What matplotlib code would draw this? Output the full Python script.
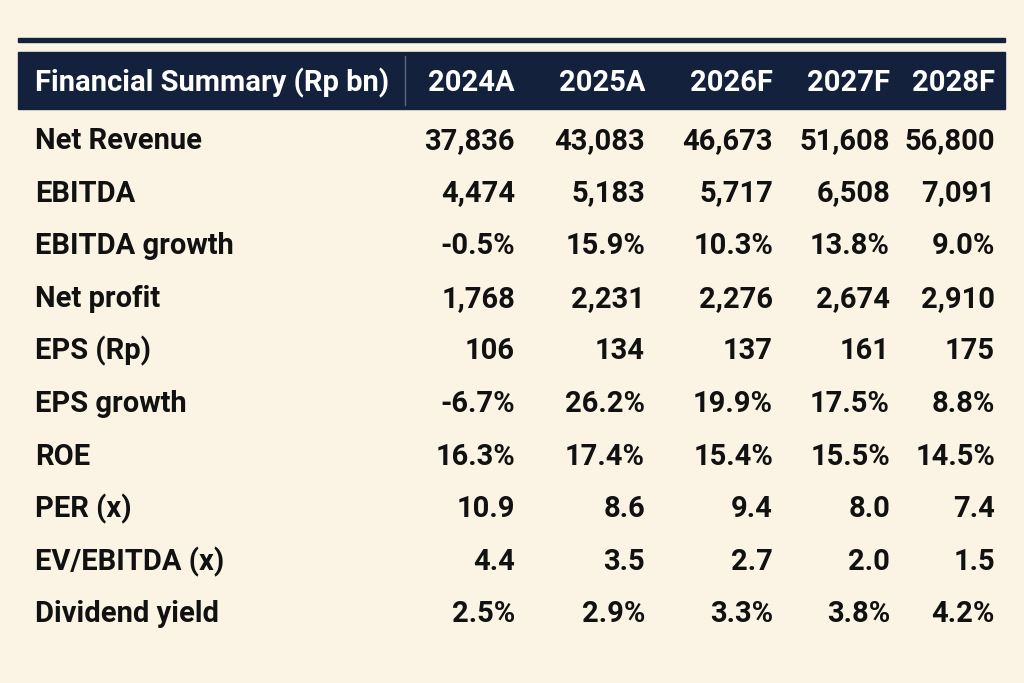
import matplotlib.pyplot as plt
from matplotlib.patches import Rectangle

header = ["2024A", "2025A", "2026F", "2027F", "2028F"]
rows = ["Net Revenue", "EBITDA", "EBITDA growth", "Net profit", "EPS (Rp)",
        "EPS growth", "ROE", "PER (x)", "EV/EBITDA (x)", "Dividend yield"]
values = [
    ["37,836", "43,083", "46,673", "51,608", "56,800"],
    ["4,474", "5,183", "5,717", "6,508", "7,091"],
    ["-0.5%", "15.9%", "10.3%", "13.8%", "9.0%"],
    ["1,768", "2,231", "2,276", "2,674", "2,910"],
    ["106", "134", "137", "161", "175"],
    ["-6.7%", "26.2%", "19.9%", "17.5%", "8.8%"],
    ["16.3%", "17.4%", "15.4%", "15.5%", "14.5%"],
    ["10.9", "8.6", "9.4", "8.0", "7.4"],
    ["4.4", "3.5", "2.7", "2.0", "1.5"],
    ["2.5%", "2.9%", "3.3%", "3.8%", "4.2%"],
]

W, H = 1024, 683
bg = "#FBF4E4"
navy = "#14213D"
fam = ["Liberation Sans Narrow", "Roboto", "DejaVu Sans"]

fig = plt.figure(figsize=(W / 100, H / 100), dpi=100, facecolor=bg)
ax = fig.add_axes([0, 0, 1, 1])
ax.set_xlim(0, W)
ax.set_ylim(H, 0)
ax.axis("off")
ax.set_facecolor(bg)

ax.add_patch(Rectangle((18, 38), 987, 4, color=navy))
ax.add_patch(Rectangle((18, 52), 987, 57, color=navy))
ax.plot([405, 405], [56, 105], color="#5A6580", lw=1)

col_x = [515, 645, 773, 890, 995]
ax.text(35, 83, "Financial Summary (Rp bn)", color="white", fontsize=21,
        fontweight="bold", family=fam, va="center", ha="left")
for x, h in zip(col_x, header):
    ax.text(x, 83, h, color="white", fontsize=21, fontweight="bold",
            family=fam, va="center", ha="right")

for i, (name, vals) in enumerate(zip(rows, values)):
    y = 141 + i * 52.6
    ax.text(35, y, name, color="#111111", fontsize=21, fontweight="bold",
            family=fam, va="center", ha="left")
    for x, v in zip(col_x, vals):
        ax.text(x, y, v, color="#111111", fontsize=21, fontweight="bold",
                family=fam, va="center", ha="right")

fig.savefig("out.png", dpi=100, facecolor=bg)
plt.close(fig)
